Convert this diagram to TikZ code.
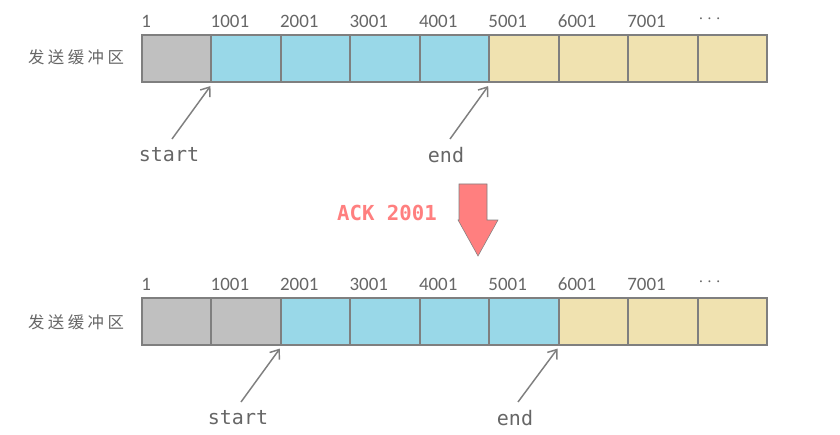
\documentclass[tikz,border=0pt]{standalone}
\usepackage{fontspec}
\setmainfont{Carlito}
\newfontfamily\cjk{Noto Sans CJK SC}
\newfontfamily\monof{DejaVu Sans Mono}
\usetikzlibrary{arrows.meta}
\definecolor{cgray}{HTML}{C0C0C0}
\definecolor{cblue}{HTML}{99D8E8}
\definecolor{cyel}{HTML}{F0E2B0}
\definecolor{cline}{HTML}{7F7F7F}
\definecolor{ctext}{HTML}{666666}
\definecolor{cred}{HTML}{FF7F7F}
\newcommand{\ck}{\kern2.6pt}
\begin{document}
\begin{tikzpicture}[x=0.75pt,y=-0.75pt,
 cell/.style={draw=cline,line width=1.5pt,minimum width=52.05pt,minimum height=35.25pt,inner sep=0pt},
 num/.style={anchor=west,inner sep=0pt,text=ctext,font=\fontsize{14.2}{16}\selectfont},
 ptr/.style={draw=cline,line width=1.1pt,-{Straight Barb[length=6pt,width=9pt]}},
 ptrlbl/.style={text=ctext,font=\monof\fontsize{15}{17}\selectfont,inner sep=0pt},
 buflbl/.style={text=ctext,font=\cjk\fontsize{12.3}{14}\selectfont,inner sep=0pt},
 bigarrow/.style={fill=cred,draw=cline,line width=0.4pt}]
\useasboundingbox (0,0) rectangle (840,435);
% top row
\foreach \i/\c in {1/cgray,2/cblue,3/cblue,4/cblue,5/cblue,6/cyel,7/cyel,8/cyel,9/cyel}{
  \node[cell,fill=\c] (t\i) at ({142+69.44*(\i-0.5)},58.5) {};
}
% bottom row
\foreach \i/\c in {1/cgray,2/cgray,3/cblue,4/cblue,5/cblue,6/cblue,7/cyel,8/cyel,9/cyel}{
  \node[cell,fill=\c] (b\i) at ({142+69.44*(\i-0.5)},321) {};
}
% numbers
\foreach \i/\n in {1/1,2/1001,3/2001,4/3001,5/4001,6/5001,7/6001,8/7001}{
  \node[num] (tn\i) at ({141+69.44*(\i-1)},21) {\n};
  \node[num] (bn\i) at ({141+69.44*(\i-1)},284) {\n};
}
\node[num,font=\fontsize{10}{12}\selectfont] (tn9) at (699,20) {·\kern4pt·\kern4pt·};
\node[num,font=\fontsize{10}{12}\selectfont] (bn9) at (699,283) {·\kern4pt·\kern4pt·};
% buffer labels
\node[buflbl] (tl) at (76,57) {发\ck 送\ck 缓\ck 冲\ck 区};
\node[buflbl] (bl) at (76,322) {发\ck 送\ck 缓\ck 冲\ck 区};
% pointers top
\node[ptrlbl] (ts) at (169,155) {start};
\node[ptrlbl] (te) at (446,155) {end};
\coordinate (tsA) at (172,139);
\coordinate (teA) at (450,139);
\draw[ptr] (tsA) -- ([yshift=-2.3pt]t2.south west);
\draw[ptr] (teA) -- ([yshift=-2.3pt]t6.south west);
% pointers bottom
\node[ptrlbl] (bs) at (238,418) {start};
\node[ptrlbl] (be) at (515,418) {end};
\coordinate (bsA) at (241,402);
\coordinate (beA) at (518,402);
\draw[ptr] (bsA) -- ([yshift=-2.3pt]b3.south west);
\draw[ptr] (beA) -- ([yshift=-2.3pt]b7.south west);
% ACK arrow
\draw[bigarrow] (459,184) -- (487,184) -- (487,220) -- (498,220) -- (478,256) -- (458,220) -- (459,220) -- cycle;
\node[text=cred,font=\monof\bfseries\fontsize{15.5}{17}\selectfont,inner sep=0pt] (ack) at (387,213) {ACK 2001};
\end{tikzpicture}
\end{document}
